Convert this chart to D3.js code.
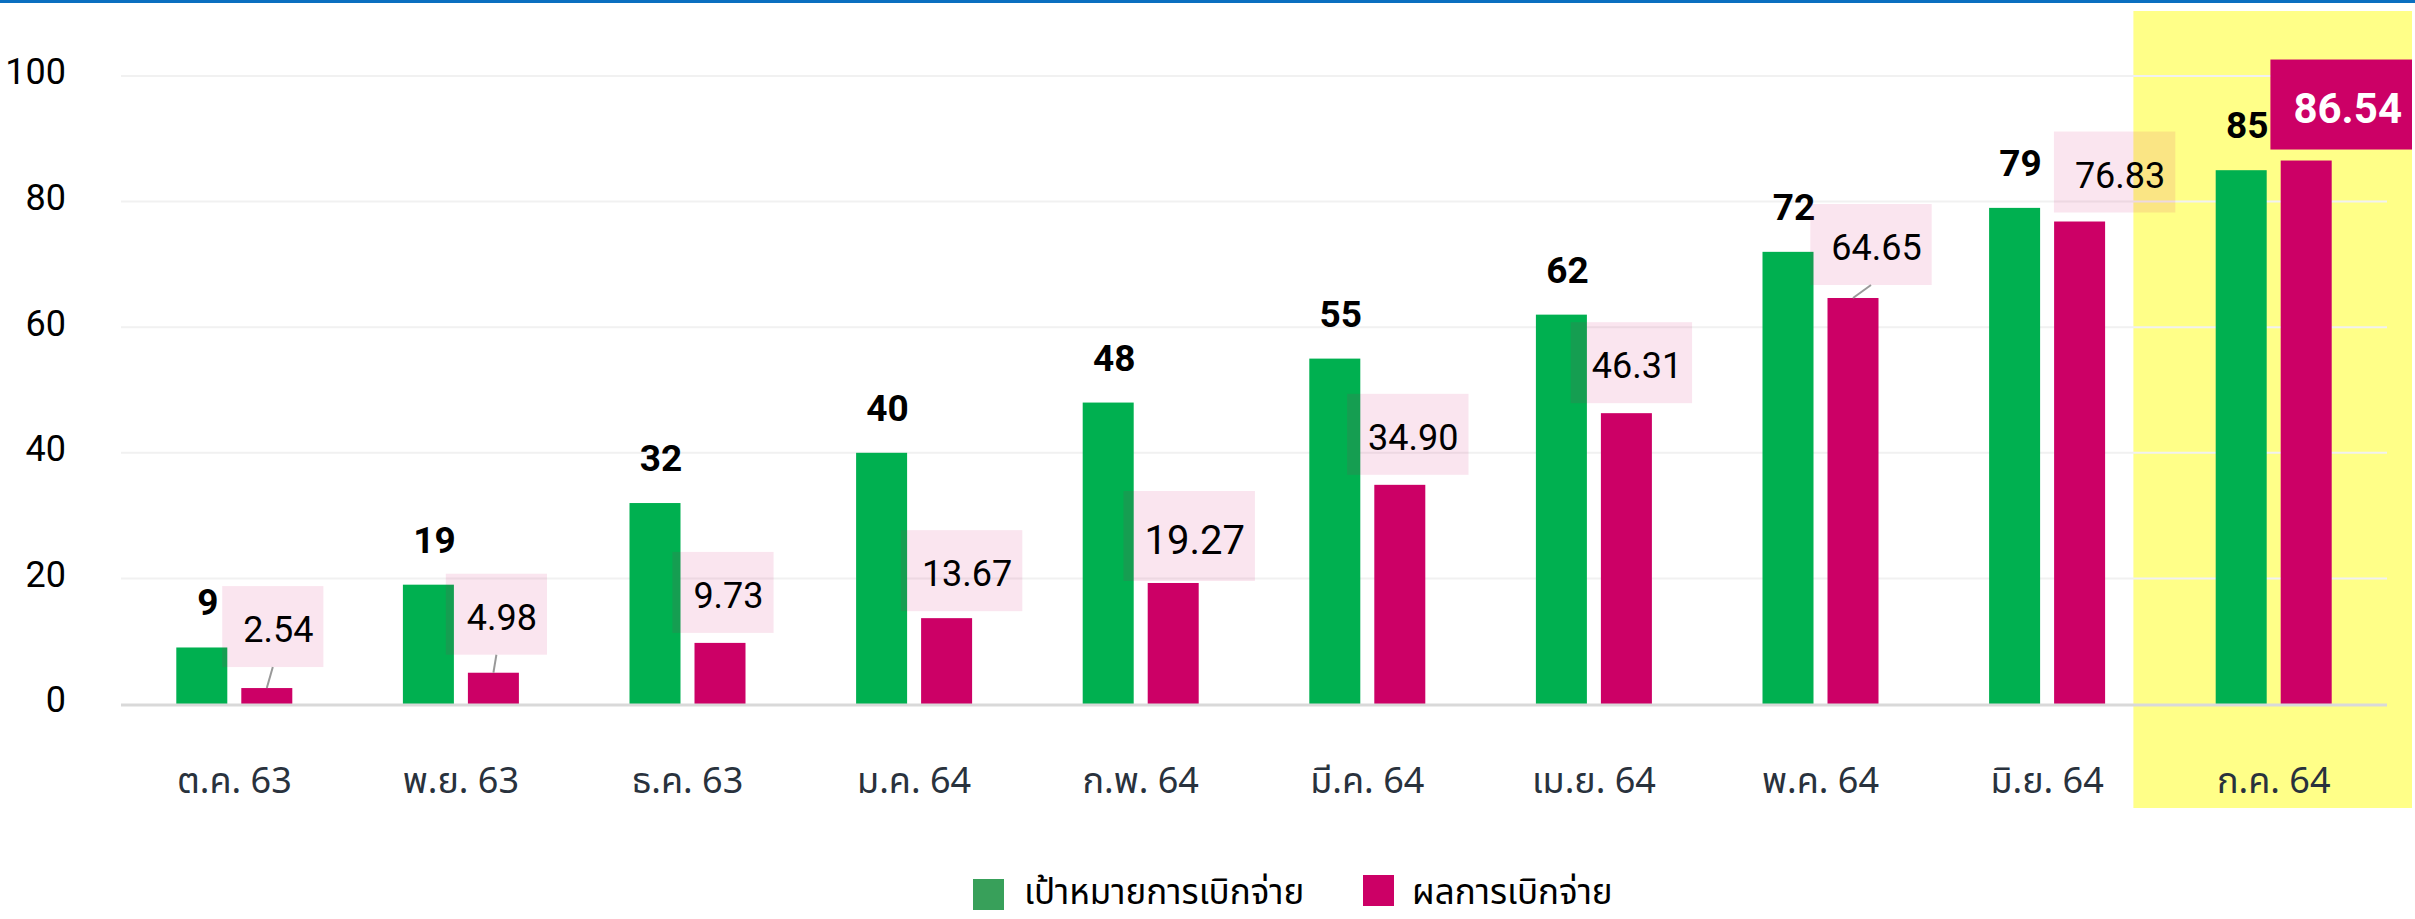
<!DOCTYPE html>
<html>
<head>
<meta charset="utf-8">
<script src="https://cdn.jsdelivr.net/npm/d3@7"></script>
<style>
  html, body { margin: 0; padding: 0; background: #fff; }
  svg text { font-family: Roboto, "Noto Sans Thai", "Noto Sans Thai Looped", "Noto Sans", sans-serif; }
</style>
</head>
<body>
<svg id="chart" width="2415" height="919"></svg>
<script>
// ---- data ----
const categories = ["ต.ค. 63", "พ.ย. 63", "ธ.ค. 63", "ม.ค. 64", "ก.พ. 64", "มี.ค. 64", "เม.ย. 64", "พ.ค. 64", "มิ.ย. 64", "ก.ค. 64"];
const targetValues = [9, 19, 32, 40, 48, 55, 62, 72, 79, 85];
const actualValues = [2.54, 4.98, 9.73, 13.67, 19.27, 34.90, 46.31, 64.65, 76.83, 86.54];
const actualLabels = ["2.54", "4.98", "9.73", "13.67", "19.27", "34.90", "46.31", "64.65", "76.83", "86.54"];
const yTicks = [0, 20, 40, 60, 80, 100];
const seriesNames = ["เป้าหมายการเบิกจ่าย", "ผลการเบิกจ่าย"];
const highlightIndex = 9;

// ---- label layout hints (px offsets of the label box relative to its bar) ----
const labelShift = [6, 3, 3, 15, 16, 8, 5, 18, 35, 39];
const labelGap = [21, 18, 10, 7, 2, 10, 10, 13, 9, 11];

const W = 2415, H = 919;
const svg = d3.select("#chart");

const x = d3.scaleBand().domain(categories).range([121, 2387]).padding(0);
const y = d3.scaleLinear().domain([0, 100]).range([704, 76]);

const barW = 51, innerGap = 14;
const green = "#00b050", pink = "#cc0066";

// top blue rule
svg.append("rect").attr("x", 0).attr("y", 0).attr("width", W).attr("height", 3).attr("fill", "#0a6fc0");

// highlight
const hc = categories[highlightIndex];
svg.append("rect")
  .attr("x", x(hc) - 27).attr("y", 11)
  .attr("width", x.bandwidth() + 52).attr("height", 797)
  .attr("fill", "#ffff88");

// gridlines
svg.append("g").selectAll("line").data(yTicks.filter(d => d > 0)).join("line")
  .attr("x1", 121).attr("x2", 2387)
  .attr("y1", d => y(d)).attr("y2", d => y(d))
  .attr("stroke", "#f1f1f1").attr("stroke-width", 2);

// y axis labels
const yAxis = d3.axisLeft(y).tickValues(yTicks).tickSize(0).tickPadding(0);
const yg = svg.append("g").attr("transform", "translate(66,0)").call(yAxis);
yg.select(".domain").remove();
yg.selectAll("text").attr("font-size", 36).attr("fill", "#000").attr("dy", "0.22em")
  .style("font-family", "Roboto, sans-serif");

// x axis labels
const xAxis = d3.axisBottom(x).tickSize(0).tickPadding(0);
const xg = svg.append("g").attr("transform", "translate(0,793)").call(xAxis);
xg.select(".domain").remove();
xg.selectAll("text").attr("font-size", 36).attr("fill", "#29323d").attr("dy", 0)
  .style("font-family", "\"Noto Sans Thai\", \"Noto Sans Thai Looped\", Roboto, \"Noto Sans\", sans-serif");

// bars
const gx = d => x(d) + x.bandwidth() / 2 - innerGap / 2 - barW;
const px = d => x(d) + x.bandwidth() / 2 + innerGap / 2;

svg.append("g").selectAll("rect").data(categories).join("rect")
  .attr("x", d => gx(d)).attr("width", barW)
  .attr("y", (d, i) => y(targetValues[i]))
  .attr("height", (d, i) => y(0) - y(targetValues[i]))
  .attr("fill", green);

svg.append("g").selectAll("rect").data(categories).join("rect")
  .attr("x", d => px(d)).attr("width", barW)
  .attr("y", (d, i) => y(actualValues[i]))
  .attr("height", (d, i) => y(0) - y(actualValues[i]))
  .attr("fill", pink);

// zero line
svg.append("line").attr("x1", 121).attr("x2", 2387).attr("y1", y(0) + 1).attr("y2", y(0) + 1)
  .attr("stroke", "#d9d9d9").attr("stroke-width", 3);

// target labels
svg.append("g").selectAll("text").data(categories).join("text")
  .attr("x", d => gx(d) + barW / 2 + 6)
  .attr("y", (d, i) => y(targetValues[i]) - 32)
  .attr("text-anchor", "middle")
  .attr("font-size", 37).attr("font-weight", "bold").attr("fill", "#000")
  .text((d, i) => targetValues[i]);

// actual labels with boxes
const lg = svg.append("g");
categories.forEach((c, i) => {
  const big = i === 4 || i === highlightIndex;
  const last = i === highlightIndex;
  const fs = last ? 42 : (big ? 40 : 36);
  const bh = big ? 90 : 81;
  const g = lg.append("g");
  const t = g.append("text").attr("font-size", fs)
    .attr("font-weight", last ? "bold" : "normal")
    .attr("fill", last ? "#fff" : "#000")
    .text(actualLabels[i]);
  const tw = t.node().getComputedTextLength();
  const padL = last ? 23 : 21, padR = 10;
  const bw = tw + padL + padR;
  const barCx = px(c) + barW / 2;
  const barTop = y(actualValues[i]);
  let bx = barCx + labelShift[i] - bw / 2;
  if (bx + bw > W - 3) bx = W - 3 - bw;
  const by = barTop - labelGap[i] - bh;
  g.insert("rect", "text")
    .attr("x", bx).attr("y", by).attr("width", bw).attr("height", bh)
    .attr("fill", last ? pink : "rgba(204,0,102,0.1)");
  t.attr("x", bx + padL).attr("y", by + (big ? 63 : 56));
  if (labelGap[i] > 12 && !last) {
    g.append("line")
      .attr("x1", bx + bw / 2).attr("y1", by + bh)
      .attr("x2", barCx).attr("y2", barTop)
      .attr("stroke", "#999").attr("stroke-width", 2);
  }
});

// legend
const legend = svg.append("g");
const legendItems = [
  { name: seriesNames[0], color: "#38a05a", sx: 973, sy: 879, tx: 1024 },
  { name: seriesNames[1], color: pink, sx: 1363, sy: 875, tx: 1412 }
];
legendItems.forEach(li => {
  legend.append("rect").attr("x", li.sx).attr("y", li.sy).attr("width", 31).attr("height", 31).attr("fill", li.color);
  legend.append("text").attr("x", li.tx).attr("y", 904).attr("font-size", 35).attr("fill", "#000")
    .style("font-family", "\"Noto Sans Thai\", \"Noto Sans Thai Looped\", Roboto, \"Noto Sans\", sans-serif")
    .text(li.name);
});
</script>
</body>
</html>
